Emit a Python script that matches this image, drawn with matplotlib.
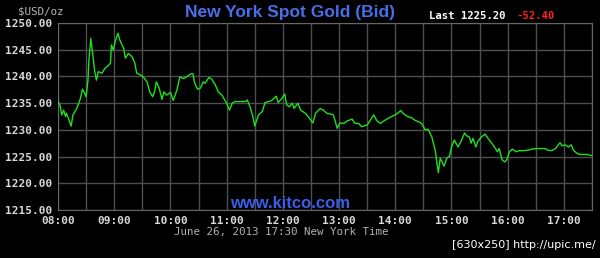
import matplotlib
matplotlib.use("Agg")
import matplotlib.pyplot as plt
from matplotlib.ticker import FixedLocator, MultipleLocator

# minutes after 08:00 New York time, bid price in USD/oz
minutes = [
    0, 2, 4, 6, 8, 9, 11, 14, 16, 20, 24, 26, 28, 30, 32, 33, 35, 37, 39, 41,
    43, 47, 50, 54, 56, 57, 59, 61, 64, 66, 70, 72, 75, 79, 82, 84, 88, 91, 95, 98,
    101, 103, 105, 108, 111, 113, 116, 120, 123, 127, 130, 134, 137, 142, 144, 146, 149, 152, 155, 157,
    161, 164, 168, 171, 175, 178, 180, 183, 186, 189, 194, 200, 202, 205, 208, 210, 214, 218, 221, 225,
    228, 233, 235, 239, 242, 244, 247, 250, 252, 256, 259, 264, 267, 272, 275, 280, 283, 287, 290, 294,
    298, 301, 305, 309, 314, 317, 321, 324, 330, 334, 337, 340, 344, 348, 353, 356, 360, 363, 366, 369,
    373, 378, 381, 385, 388, 392, 395, 399, 403, 404, 406, 408, 410, 412, 415, 418, 420, 423, 427, 430,
    434, 436, 439, 441, 443, 446, 448, 452, 456, 459, 463, 467, 469, 471, 474, 477, 479, 482, 485, 489,
    492, 497, 502, 506, 511, 516, 520, 523, 527, 531, 534, 536, 538, 541, 545, 548, 550, 554, 557, 564,
    570,
]
prices = [
    1235.3, 1234.7, 1232.8, 1233.7, 1232.5, 1233.1, 1232.2, 1230.7, 1232.8, 1234.0,
    1235.9, 1237.6, 1237.0, 1236.2, 1239.3, 1243.1, 1247.1, 1244.3, 1241.2, 1239.3,
    1240.9, 1240.6, 1241.5, 1242.1, 1242.5, 1245.9, 1244.9, 1246.5, 1248.1, 1246.8,
    1245.3, 1243.4, 1244.3, 1243.7, 1242.5, 1240.6, 1240.3, 1239.9, 1239.0, 1237.1,
    1236.2, 1237.1, 1239.0, 1237.8, 1235.7, 1237.1, 1236.5, 1237.0, 1235.5, 1237.5,
    1239.9, 1239.6, 1239.9, 1240.5, 1240.5, 1238.7, 1237.6, 1237.8, 1239.0, 1238.7,
    1239.8, 1239.5, 1238.4, 1237.1, 1236.5, 1235.6, 1235.0, 1233.7, 1235.0, 1235.3,
    1235.3, 1235.3, 1235.6, 1234.3, 1232.5, 1230.7, 1232.8, 1233.4, 1235.1, 1235.3,
    1235.5, 1236.3, 1235.1, 1235.9, 1236.7, 1234.7, 1234.3, 1235.0, 1234.0, 1235.0,
    1233.7, 1233.1, 1232.5, 1231.3, 1233.1, 1234.0, 1233.7, 1233.1, 1233.0, 1232.8,
    1230.3, 1231.3, 1231.2, 1231.7, 1232.0, 1231.2, 1231.2, 1230.6, 1230.9, 1232.0,
    1232.8, 1231.8, 1231.2, 1231.7, 1232.2, 1232.5, 1232.8, 1233.2, 1233.6, 1233.0,
    1232.5, 1232.2, 1231.8, 1231.5, 1231.2, 1230.0, 1230.1, 1228.7, 1225.9, 1224.4,
    1222.0, 1224.7, 1224.0, 1223.2, 1224.7, 1225.1, 1226.8, 1228.1, 1226.8, 1227.8,
    1229.4, 1228.9, 1228.7, 1227.5, 1228.4, 1226.8, 1227.8, 1228.7, 1229.2, 1228.4,
    1227.5, 1226.5, 1225.9, 1226.5, 1224.4, 1224.0, 1224.4, 1225.9, 1226.4, 1225.9,
    1226.1, 1226.1, 1226.2, 1226.4, 1226.5, 1226.5, 1226.5, 1226.2, 1226.1, 1226.5,
    1227.2, 1227.6, 1227.0, 1227.2, 1226.8, 1227.2, 1226.2, 1225.6, 1225.4, 1225.4,
    1225.2,
]

hour_ticks = [0, 60, 120, 180, 240, 300, 360, 420, 480, 540]
hour_labels = ["08:00", "09:00", "10:00", "11:00", "12:00", "13:00",
               "14:00", "15:00", "16:00", "17:00"]
price_ticks = [1215, 1220, 1225, 1230, 1235, 1240, 1245, 1250]

last_price = 1225.20
change = -52.40

grid_col = "#4e4e4e"
mono = "DejaVu Sans Mono"

fig = plt.figure(figsize=(6, 2.58), dpi=100, facecolor="black")
ax = fig.add_axes([58 / 600, 1 - 210 / 258, 534 / 600, 187 / 258])
ax.set_facecolor("black")

ax.plot(minutes, prices, color="#1fe01f", lw=1.0, zorder=3)

ax.set_xlim(0, 570)
ax.set_ylim(1215, 1250)
ax.xaxis.set_major_locator(FixedLocator(hour_ticks))
ax.set_xticklabels(hour_labels)
ax.xaxis.set_minor_locator(MultipleLocator(30))
ax.set_yticks(price_ticks)
ax.set_yticklabels([f"{p:.2f}" for p in price_ticks])

ax.grid(True, which="both", color=grid_col, lw=1.0, zorder=0)
ax.tick_params(which="both", length=0, colors="#d8d8d8", labelsize=8)
ax.tick_params(axis="y", pad=4)
ax.tick_params(axis="x", pad=4)
for lbl in ax.get_xticklabels() + ax.get_yticklabels():
    lbl.set_family(mono)
    lbl.set_weight("bold")
for s in ax.spines.values():
    s.set_color("#666666")

fig.text(290 / 600, 1 - 12 / 258, "New York Spot Gold (Bid)", color="#4a6ee8",
         fontsize=12.5, fontweight="bold", family="Liberation Sans",
         ha="center", va="center")
fig.text(18 / 600, 1 - 11 / 258, "$USD/oz", color="#b8b8b8", fontsize=7.8,
         family=mono, ha="left", va="center")
fig.text(429 / 600, 1 - 16 / 258, f"Last {last_price:.2f}", color="white",
         fontsize=7.7, family=mono, fontweight="bold", ha="left", va="center")
fig.text(517 / 600, 1 - 16 / 258, f"{change:.2f}", color="#ff2020",
         fontsize=7.7, family=mono, fontweight="bold", ha="left", va="center")
fig.text(290 / 600, 1 - 203 / 258, "www.kitco.com", color="#3a5ee8",
         fontsize=12, fontweight="bold", family="Liberation Sans",
         ha="center", va="center")
fig.text(281 / 600, 1 - 232 / 258, "June 26, 2013 17:30 New York Time",
         color="#b0b0b0", fontsize=7.8, family=mono, ha="center", va="center")
fig.text(596 / 600, 1 - 245 / 258, "[630x250] http://upic.me/", color="white",
         fontsize=8, family="DejaVu Sans", ha="right", va="center")

fig.savefig("out.png", dpi=100, facecolor="black")
